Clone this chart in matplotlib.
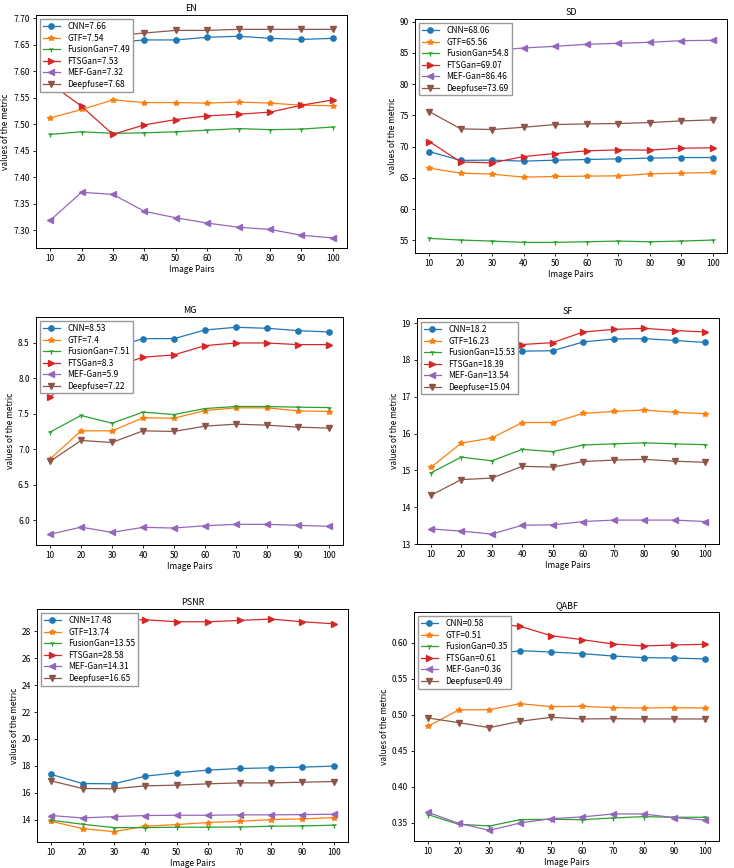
import numpy as np
import matplotlib
matplotlib.use("Agg")
import matplotlib.pyplot as plt

plt.rcParams['font.family'] = ['Noto Sans CJK SC', 'DejaVu Sans']
plt.rcParams['axes.unicode_minus'] = False

pairs = [10, 20, 30, 40, 50, 60, 70, 80, 90, 100]
methods = ['CNN', 'GTF', 'FusionGan', 'FTSGan', 'MEF-Gan', 'Deepfuse']
markers = ['o', '*', '1', '>', '<', 'v']

# EN
en_cnn = [7.655, 7.657, 7.654, 7.659, 7.659, 7.664, 7.666, 7.662, 7.660, 7.662]
en_gtf = [7.512, 7.528, 7.546, 7.541, 7.541, 7.540, 7.542, 7.540, 7.536, 7.535]
en_fusion = [7.481, 7.486, 7.483, 7.484, 7.486, 7.489, 7.492, 7.490, 7.491, 7.495]
en_fts = [7.577, 7.534, 7.481, 7.499, 7.509, 7.516, 7.519, 7.523, 7.536, 7.546]
en_mef = [7.319, 7.372, 7.368, 7.336, 7.324, 7.314, 7.306, 7.302, 7.291, 7.286]
en_deep = [7.690, 7.680, 7.667, 7.672, 7.677, 7.677, 7.679, 7.679, 7.679, 7.679]
en_avg = [7.66, 7.54, 7.49, 7.53, 7.32, 7.68]

# SD
sd_cnn = [69.22, 67.80, 67.84, 67.68, 67.84, 67.94, 68.05, 68.16, 68.26, 68.26]
sd_gtf = [66.56, 65.76, 65.60, 65.12, 65.23, 65.28, 65.33, 65.65, 65.76, 65.87]
sd_fusion = [55.32, 55.05, 54.89, 54.68, 54.68, 54.78, 54.89, 54.78, 54.89, 55.05]
sd_fts = [70.82, 67.55, 67.41, 68.42, 68.90, 69.33, 69.49, 69.44, 69.76, 69.81]
sd_mef = [87.60, 86.00, 85.40, 85.79, 86.06, 86.38, 86.54, 86.70, 86.96, 87.02]
sd_deep = [75.62, 72.85, 72.74, 73.11, 73.54, 73.64, 73.70, 73.86, 74.12, 74.28]
sd_avg = [68.06, 65.56, 54.8, 69.07, 86.46, 73.69]

# MG
mg_cnn = [8.05, 8.45, 8.42, 8.556, 8.556, 8.678, 8.716, 8.702, 8.669, 8.650]
mg_gtf = [6.858, 7.257, 7.257, 7.440, 7.435, 7.543, 7.581, 7.581, 7.538, 7.529]
mg_fusion = [7.238, 7.473, 7.365, 7.520, 7.487, 7.571, 7.600, 7.600, 7.590, 7.585]
mg_fts = [7.735, 8.10, 8.15, 8.294, 8.327, 8.458, 8.495, 8.495, 8.472, 8.472]
mg_mef = [5.798, 5.900, 5.826, 5.897, 5.887, 5.920, 5.939, 5.939, 5.925, 5.911]
mg_deep = [6.826, 7.121, 7.093, 7.257, 7.248, 7.323, 7.351, 7.337, 7.309, 7.295]
mg_avg = [8.53, 7.4, 7.51, 8.3, 5.9, 7.22]

# SF
sf_cnn = [17.17, 17.90, 18.10, 18.24, 18.25, 18.49, 18.57, 18.58, 18.53, 18.475]
sf_gtf = [15.08, 15.74, 15.88, 16.30, 16.30, 16.55, 16.60, 16.64, 16.58, 16.54]
sf_fusion = [14.93, 15.36, 15.26, 15.57, 15.51, 15.69, 15.72, 15.75, 15.72, 15.70]
sf_fts = [17.30, 17.75, 18.05, 18.42, 18.47, 18.76, 18.83, 18.86, 18.80, 18.76]
sf_mef = [13.41, 13.35, 13.27, 13.51, 13.52, 13.61, 13.65, 13.65, 13.65, 13.61]
sf_deep = [14.32, 14.75, 14.79, 15.11, 15.09, 15.24, 15.28, 15.30, 15.25, 15.22]
sf_avg = [18.2, 16.23, 15.53, 18.39, 13.54, 15.04]

# PSNR
ps_cnn = [17.36, 16.68, 16.66, 17.23, 17.48, 17.68, 17.80, 17.85, 17.90, 17.98]
ps_gtf = [13.87, 13.33, 13.10, 13.50, 13.63, 13.78, 13.87, 14.00, 14.05, 14.15]
ps_fusion = [13.95, 13.65, 13.40, 13.40, 13.43, 13.43, 13.45, 13.50, 13.53, 13.58]
ps_fts = [27.40, 28.20, 28.85, 28.87, 28.72, 28.72, 28.82, 28.92, 28.72, 28.57]
ps_mef = [14.30, 14.12, 14.22, 14.30, 14.32, 14.32, 14.35, 14.35, 14.37, 14.40]
ps_deep = [16.88, 16.31, 16.29, 16.51, 16.56, 16.66, 16.73, 16.73, 16.78, 16.83]
ps_avg = [17.48, 13.74, 13.55, 28.58, 14.31, 16.65]

# QABF
qa_cnn = [0.570, 0.575, 0.583, 0.5889, 0.5870, 0.5848, 0.5815, 0.5792, 0.5787, 0.5774]
qa_gtf = [0.4840, 0.5067, 0.5071, 0.5154, 0.5113, 0.5117, 0.5099, 0.5094, 0.5099, 0.5094]
qa_fusion = [0.3616, 0.3482, 0.3458, 0.3546, 0.3551, 0.3546, 0.3569, 0.3588, 0.3579, 0.3579]
qa_fts = [0.622, 0.625, 0.627, 0.6226, 0.6097, 0.6042, 0.5982, 0.5954, 0.5968, 0.5977]
qa_mef = [0.3648, 0.3495, 0.3398, 0.3500, 0.3560, 0.3583, 0.3625, 0.3625, 0.3574, 0.3542]
qa_deep = [0.4956, 0.4891, 0.4822, 0.4910, 0.4965, 0.4942, 0.4946, 0.4942, 0.4942, 0.4942]
qa_avg = [0.58, 0.51, 0.35, 0.61, 0.36, 0.49]

panels = [
    ('EN', [en_cnn, en_gtf, en_fusion, en_fts, en_mef, en_deep], en_avg,
     (36, 15, 347, 248), (7.267, 7.706), np.arange(7.30, 7.701, 0.05), '%.2f'),
    ('SD', [sd_cnn, sd_gtf, sd_fusion, sd_fts, sd_mef, sd_deep], sd_avg,
     (415, 19, 727, 253), (52.98, 90.43), np.arange(55, 91, 5), '%d'),
    ('MG', [mg_cnn, mg_gtf, mg_fusion, mg_fts, mg_mef, mg_deep], mg_avg,
     (36, 317, 343, 545), (5.648, 8.861), np.arange(6.0, 8.51, 0.5), '%.1f'),
    ('SF', [sf_cnn, sf_gtf, sf_fusion, sf_fts, sf_mef, sf_deep], sf_avg,
     (417, 318, 719, 544), (13.0, 19.14), np.arange(13, 19.1, 1), '%d'),
    ('PSNR', [ps_cnn, ps_gtf, ps_fusion, ps_fts, ps_mef, ps_deep], ps_avg,
     (37, 609, 348, 842), (12.33, 29.67), np.arange(14, 28.1, 2), '%d'),
    ('QABF', [qa_cnn, qa_gtf, qa_fusion, qa_fts, qa_mef, qa_deep], qa_avg,
     (414, 612, 719, 841), (0.325, 0.6425), np.arange(0.35, 0.601, 0.05), '%.2f'),
]

W, H = 734, 868
fig = plt.figure(figsize=(W / 100, H / 100), dpi=100)
fs = 6.0

for title, series, avgs, box, ylim, yticks, fmt in panels:
    l, t, r, b = box
    ax = fig.add_axes([l / W, 1 - b / H, (r - l) / W, (b - t) / H])
    for name, m, vals, avg in zip(methods, markers, series, avgs):
        ax.plot(pairs, vals, marker=m, markersize=3.8, linewidth=0.9,
                label='%s=%s' % (name, avg))
    ax.set_ylim(*ylim)
    ax.set_yticks(yticks)
    ax.set_yticklabels([fmt % v for v in yticks])
    ax.set_xticks(pairs)
    ax.tick_params(labelsize=fs, length=2.5, width=0.6, pad=2)
    for sp in ax.spines.values():
        sp.set_linewidth(0.7)
    ax.set_title(title, fontsize=fs + 0.5, pad=3)
    ax.set_xlabel('Image Pairs', fontsize=fs, labelpad=1)
    ax.set_ylabel('values of the metric', fontsize=fs, labelpad=2)
    ax.legend(loc='upper left', fontsize=fs, handlelength=2.0, borderpad=0.35,
              labelspacing=0.3, handletextpad=0.9, framealpha=1,
              edgecolor='#999999', fancybox=False)

fig.savefig('out.png', dpi=100)
